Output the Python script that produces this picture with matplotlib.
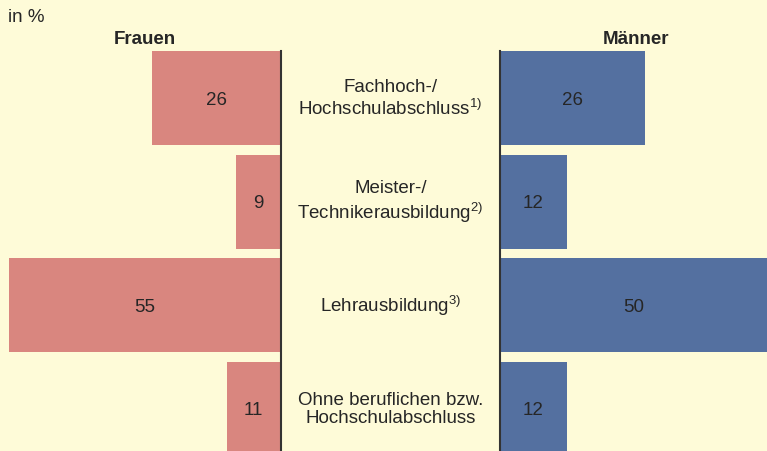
import numpy as np
import matplotlib.pyplot as plt

plt.rcParams['font.family'] = 'Liberation Sans'
plt.rcParams['mathtext.fontset'] = 'custom'
plt.rcParams['mathtext.rm'] = 'Liberation Sans'

categories = ["Fachhoch-/\nHochschulabschluss$^{\\mathrm{1)}}$",
              "Meister-/\nTechnikerausbildung$^{\\mathrm{2)}}$",
              "Lehrausbildung$^{\\mathrm{3)}}$",
              "Ohne beruflichen bzw.\nHochschulabschluss"]
frauen = [26, 9, 55, 11]
maenner = [26, 12, 50, 12]

bg = '#FEFBD8'
pink = '#D9867F'
blue = '#5470A0'
txt = '#262626'

W, H = 767, 452
fig = plt.figure(figsize=(W / 100, H / 100), dpi=100, facecolor=bg)

top = 1 - 52 / H
y = np.arange(len(categories))
ylim = (3.41, -0.454)

axl = fig.add_axes([0, 0, 281 / W, top])
axr = fig.add_axes([500 / W, 0, 267 / W, top])

axl.barh(y, frauen, height=0.908, color=pink)
axl.set_xlim(56.8, 0)
axr.barh(y, maenner, height=0.908, color=blue)
axr.set_xlim(0, 47.9)

for ax in (axl, axr):
    ax.set_ylim(*ylim)
    ax.set_facecolor(bg)
    ax.set_xticks([])
    ax.set_yticks([])
    for s in ax.spines.values():
        s.set_visible(False)
axl.spines['right'].set_visible(True)
axl.spines['right'].set_color('#333333')
axl.spines['right'].set_linewidth(1.5)
axr.spines['left'].set_visible(True)
axr.spines['left'].set_color('#333333')
axr.spines['left'].set_linewidth(1.5)

for i, v in enumerate(frauen):
    axl.text(min(v, 56.8) / 2, i + 0.01, str(v), ha='center', va='center',
             fontsize=13.5, color=txt)
for i, v in enumerate(maenner):
    axr.text(min(v, 47.9) / 2, i + 0.01, str(v), ha='center', va='center',
             fontsize=13.5, color=txt)

# category labels in the middle gap
for i, c in enumerate(categories):
    yc = 1 - (99 + i * 103.5) / H
    fig.text(390.5 / W, yc, c, ha='center', va='center', fontsize=13.5,
             color=txt, linespacing=1.15)

fig.text(8 / W, 1 - 18 / H, "in %", ha='left', va='center', fontsize=13.5, color=txt)
fig.text(145 / W, 1 - 39 / H, "Frauen", ha='center', va='center', fontsize=13.5,
         fontweight='bold', color=txt)
fig.text(636 / W, 1 - 39 / H, "Männer", ha='center', va='center', fontsize=13.5,
         fontweight='bold', color=txt)

fig.savefig('out.png', dpi=100, facecolor=bg)
